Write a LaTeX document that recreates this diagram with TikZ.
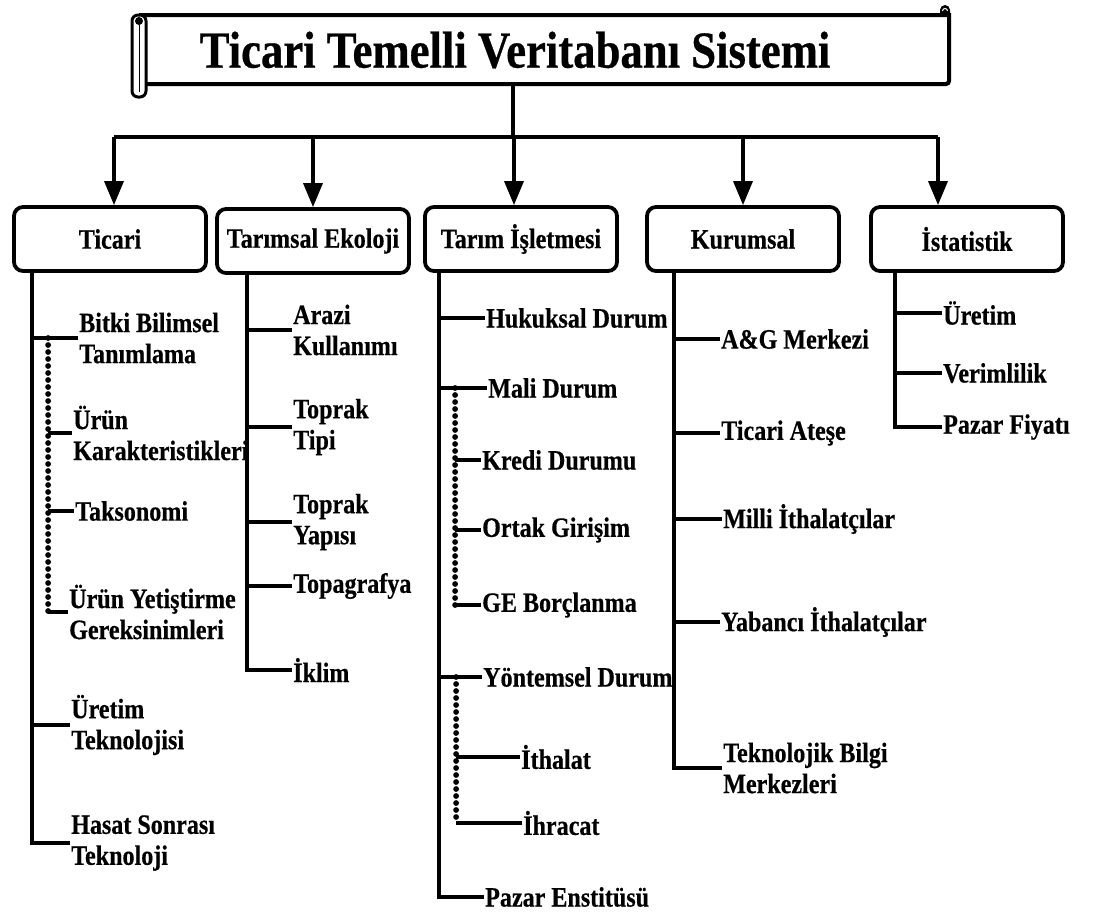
\documentclass[tikz,border=0pt]{standalone}
\usepackage{fontspec}
\setmainfont{Liberation Serif}[FakeStretch=0.86, FakeBold=0.5]
\usetikzlibrary{arrows.meta, decorations.markings}

\begin{document}
\begin{tikzpicture}[x=1pt, y=-1pt,
    link/.style={draw, line width=3.5pt},
    dotline/.style={decoration={markings, mark=between positions 0 and 1 step 7pt with {\fill (0,0) circle (2.9pt);}}, postaction={decorate}},
    arrow/.style={link, -{Triangle[length=24pt, width=19pt]}},
    topic/.style={draw, line width=3.8pt, rounded corners=9pt, minimum width=192pt, minimum height=64pt, font=\bfseries\fontsize{28}{30}\selectfont},
    item/.style={anchor=west, inner sep=1pt, align=left, font=\bfseries\fontsize{28}{31}\selectfont}
  ]
  \useasboundingbox (0,0) rectangle (1093,914);

  % Title scroll
  \draw[line width=4pt] (139,15) -- (949,15) -- (949,80) [rounded corners=3pt] -- (949,84) -- (139,84);
  \draw[line width=3pt, fill=white, rounded corners=6pt] (132,15) rectangle (146,97);
  \fill (139,21) circle (4pt);
  \draw[line width=1pt] (139,25) -- (139,92);
  \fill (940,15) -- (940,10) arc[start angle=180, end angle=0, radius=5pt] -- (950,15) -- cycle;
  \draw[white, line width=1pt] (942.5,11) arc[start angle=180, end angle=0, radius=2.5pt];
  \node[font=\bfseries\fontsize{52}{54}\selectfont] (ttl) at (515,50) {Ticari Temelli Veritabanı Sistemi};
  \coordinate (bus) at (513,137);

  % Main groups
  \node[topic] (tic) at (110,239) {Ticari};
  \node[topic] (tre) at (313,241) {Tarımsal Ekoloji};
  \node[topic] (tis) at (521,239) {Tarım İşletmesi};
  \node[topic] (kur) at (743,239) {Kurumsal};
  \node[topic] (ist) at (967,239) {İstatistik};

  % Title to groups
  \draw[link] (bus |- 0,84) -- (bus);
  \draw[link] ([xshift=4pt]tic.north |- bus) -- ([xshift=-29pt]ist.north |- bus);
  \draw[arrow] ([xshift=4pt]tic.north |- bus) -- ([xshift=4pt]tic.north);
  \draw[arrow] (tre.north |- bus) -- (tre.north);
  \draw[arrow] ([xshift=-7pt]tis.north |- bus) -- ([xshift=-7pt]tis.north);
  \draw[arrow] (kur.north |- bus) -- (kur.north);
  \draw[arrow] ([xshift=-29pt]ist.north |- bus) -- ([xshift=-29pt]ist.north);

  % Ticari
  \node[item] (bbt) at (78,338) {Bitki Bilimsel\\Tanımlama};
  \node[item] (urk) at (72,433) {Ürün\\Karakteristikleri};
  \node[item] (tak) at (74,511) {Taksonomi};
  \node[item] (uyg) at (68,612) {Ürün Yetiştirme\\Gereksinimleri};
  \node[item] (utk) at (70,725) {Üretim\\Teknolojisi};
  \node[item] (hst) at (70,843) {Hasat Sonrası\\Teknoloji};
  \path ([xshift=20pt]tic.south west) coordinate (ticT);
  \path (ticT |- bbt.west) ++(16,0) coordinate (ticD);
  \foreach \n in {bbt,utk,hst} \draw[link] (ticT) |- (\n.west);
  \path[dotline] (ticD) -- (ticD |- uyg.west);
  \foreach \n in {urk,tak,uyg} \draw[link] (ticD |- \n.west) -- (\n.west);

  % Tarimsal Ekoloji
  \node[item] (akl) at (292,330) {Arazi\\Kullanımı};
  \node[item] (ttp) at (292,427) {Toprak\\Tipi};
  \node[item] (typ) at (292,522) {Toprak\\Yapısı};
  \node[item] (tpg) at (292,586) {Topagrafya};
  \node[item] (ikl) at (292,670) {İklim};
  \path ([xshift=32pt]tre.south west) coordinate (treT);
  \foreach \n in {akl,ttp,typ,tpg,ikl} \draw[link] (treT) |- (\n.west);

  % Tarim Isletmesi
  \node[item] (hkd) at (485,318) {Hukuksal Durum};
  \node[item] (mld) at (487,388) {Mali Durum};
  \node[item] (krd) at (481,460) {Kredi Durumu};
  \node[item] (okg) at (481,530) {Ortak Girişim};
  \node[item] (geb) at (481,605) {GE Borçlanma};
  \node[item] (ytd) at (482,677) {Yöntemsel Durum};
  \node[item] (ith) at (520,757) {İthalat};
  \node[item] (ihr) at (522,823) {İhracat};
  \node[item] (pze) at (484,897) {Pazar Enstitüsü};
  \path ([xshift=16pt]tis.south west) coordinate (tisT);
  \foreach \n in {hkd,mld,ytd,pze} \draw[link] (tisT) |- (\n.west);
  \path (tisT |- mld.west) ++(16,0) coordinate (mldD);
  \path[dotline] (mldD) -- (mldD |- geb.west);
  \foreach \n in {krd,okg,geb} \draw[link] (mldD |- \n.west) -- (\n.west);
  \path (tisT |- ytd.west) ++(17,0) coordinate (ytdD);
  \path[dotline] (ytdD) -- (ytdD |- ihr.west);
  \foreach \n in {ith,ihr} \draw[link] (ytdD |- \n.west) -- (\n.west);

  % Kurumsal
  \node[item] (agm) at (720,339) {A\&G Merkezi};
  \node[item] (tat) at (720,433) {Ticari Ateşe};
  \node[item] (mit) at (722,519) {Milli İthalatçılar};
  \node[item] (yit) at (720,622) {Yabancı İthalatçılar};
  \node[item] (tbm) at (722,768) {Teknolojik Bilgi\\Merkezleri};
  \path ([xshift=29pt]kur.south west) coordinate (kurT);
  \foreach \n in {agm,tat,mit,yit,tbm} \draw[link] (kurT) |- (\n.west);

  % Istatistik
  \node[item] (sur) at (942,313) {Üretim};
  \node[item] (svr) at (942,373) {Verimlilik};
  \node[item] (spf) at (942,427) {Pazar Fiyatı};
  \path ([xshift=26pt]ist.south west) coordinate (istT);
  \foreach \n in {sur,svr,spf} \draw[link] (istT) |- (\n.west);
\end{tikzpicture}
\end{document}
